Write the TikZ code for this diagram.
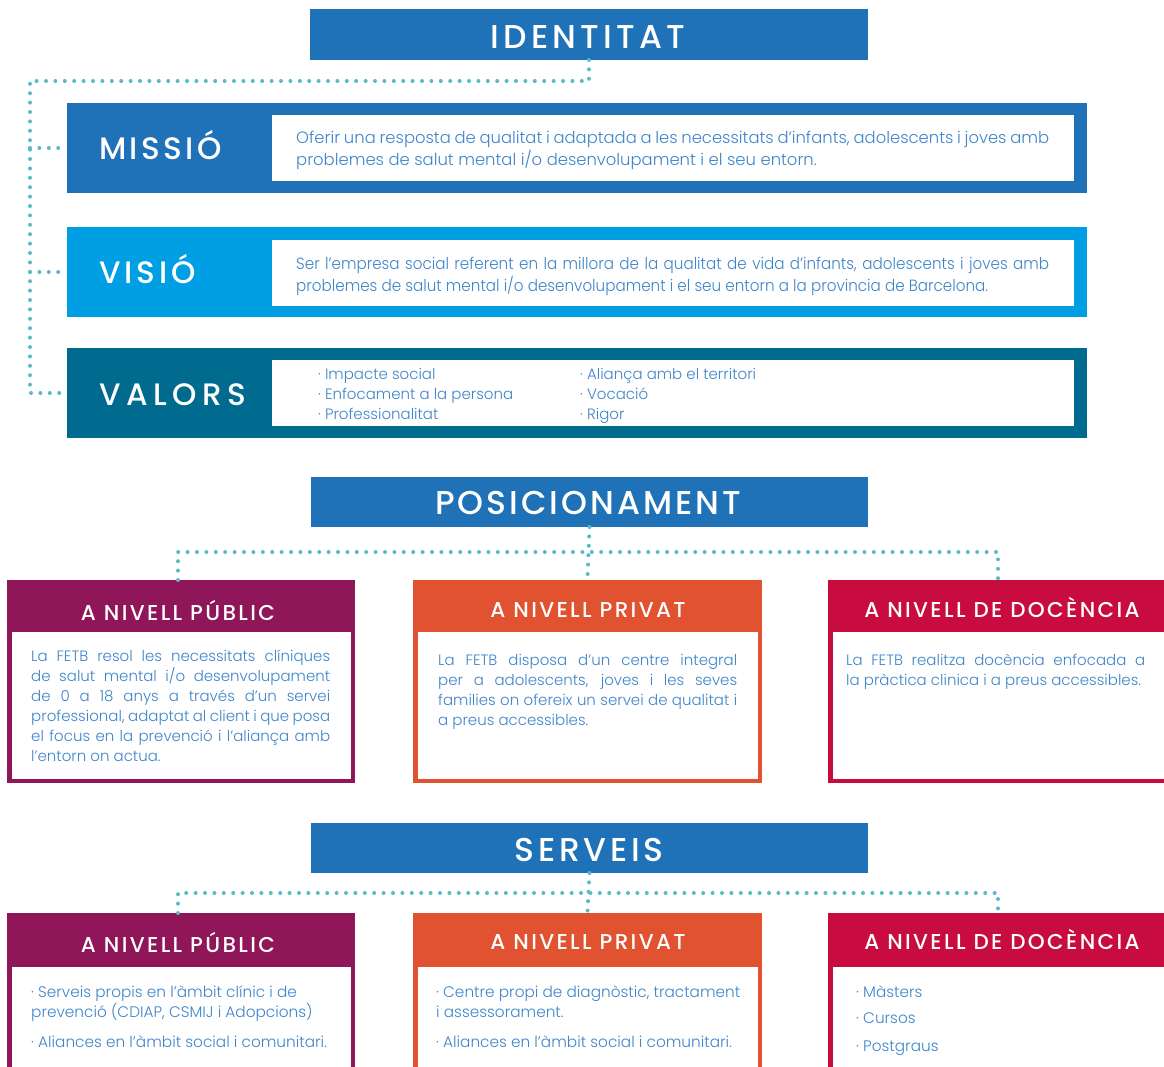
\documentclass[tikz,border=0pt]{standalone}
\usepackage{fontspec}
\newfontfamily\bodyf{Poppins Light}
\newfontfamily\bodyc{Poppins Light}[FakeStretch=0.93]
\newfontfamily\headf{Poppins Medium}[LetterSpace=10]
\newfontfamily\subf{Poppins Medium}[LetterSpace=11]
\definecolor{cIdent}{RGB}{31,113,184}
\definecolor{cVisio}{RGB}{0,159,227}
\definecolor{cValors}{RGB}{0,107,143}
\definecolor{cDot}{RGB}{93,185,201}
\definecolor{cText}{RGB}{62,133,202}
\definecolor{cPub}{RGB}{142,22,89}
\definecolor{cPriv}{RGB}{224,82,48}
\definecolor{cDoc}{RGB}{200,12,63}
\newcommand{\JLine}[2]{\makebox[#1pt][s]{#2}}
\begin{document}
\begin{tikzpicture}[x=1pt,y=-1pt,
  rbox/.style={anchor=north west, inner sep=0pt, outer sep=0pt, draw=none},
  ttl/.style={anchor=base, inner sep=0pt, text=white, font=\headf\fontsize{33}{33}\selectfont},
  lbl/.style={anchor=base west, inner sep=0pt, text=white, font=\headf\fontsize{31}{31}\selectfont},
  sub/.style={anchor=base, inner sep=0pt, text=white, font=\subf\fontsize{21.5}{21.5}\selectfont},
  txt/.style={anchor=base west, inner sep=0pt, align=left, text=cText, font=\bodyf\fontsize{16.4}{22}\selectfont},
  txtc/.style={anchor=base west, inner sep=0pt, align=left, text=cText, font=\bodyc\fontsize{16.3}{22}\selectfont},
  txts/.style={anchor=base west, inner sep=0pt, align=left, text=cText, font=\bodyf\fontsize{15}{20}\selectfont},
  txtv/.style={anchor=base west, inner sep=0pt, align=left, text=cText, font=\bodyf\fontsize{15.3}{20}\selectfont},
  dots/.style={draw=cDot, line width=4pt, line cap=round, dash pattern=on 0pt off 9.4pt}
]
\useasboundingbox (0,0) rectangle (1164,1066);
\clip (0,0) rectangle (1164,1066);
\fill[white] (0,0) rectangle (1164,1066);

% ---------- IDENTITAT ----------
\node[rbox, fill=cIdent, minimum width=558, minimum height=51] (ident) at (310,9) {};
\node[ttl] (identt) at (588,48) {\addfontfeatures{LetterSpace=13}IDENTITAT};

\node[rbox, fill=cIdent, minimum width=1020, minimum height=90] (missio) at (67,103) {};
\node[rbox, fill=white, minimum width=802, minimum height=66] (missioin) at (272,115) {};
\node[lbl] (missiol) at (99,159) {\addfontfeatures{LetterSpace=11}MISSIÓ};
\node[txt] (missiot) at (296,165) {\JLine{753}{Oferir una resposta de qualitat i adaptada a les necessitats d’infants, adolescents i joves amb}\\problemes de salut mental i/o desenvolupament i el seu entorn.};

\node[rbox, fill=cVisio, minimum width=1020, minimum height=90] (visio) at (67,227) {};
\node[rbox, fill=white, minimum width=802, minimum height=66] (visioin) at (272,240) {};
\node[lbl] (visiol) at (99,283) {\addfontfeatures{LetterSpace=13}VISIÓ};
\node[txtc] (visiot) at (296,291) {\JLine{753}{Ser l’empresa social referent en la millora de la qualitat de vida d’infants, adolescents i joves amb}\\problemes de salut mental i/o desenvolupament i el seu entorn a la provincia de Barcelona.};

\node[rbox, fill=cValors, minimum width=1020, minimum height=90] (valors) at (67,348) {};
\node[rbox, fill=white, minimum width=802, minimum height=66] (valorsin) at (272,360) {};
\node[lbl] (valorsl) at (99,405) {\addfontfeatures{LetterSpace=18}VALORS};
\node[txts] (valors1) at (318,419) {· Impacte social\\· Enfocament a la persona\\· Professionalitat};
\node[txts] (valors2) at (580,419) {· Aliança amb el territori\\· Vocació\\· Rigor};

\coordinate (lx) at (30,81);
\draw[dots] (ident.south) -- (ident.south |- lx) -- (lx) -- (lx |- valors.west) -- (valors.west);
\draw[dots] (lx |- missio.west) -- (missio.west);
\draw[dots] (lx |- visio.west) -- (visio.west);

% ---------- POSICIONAMENT ----------
\node[rbox, fill=cIdent, minimum width=557, minimum height=50] (posic) at (311,477) {};
\node[ttl] (posict) at (588,514) {\addfontfeatures{LetterSpace=9}POSICIONAMENT};

\node[rbox, fill=cPub, minimum width=348, minimum height=203] (pub1) at (7,580) {};
\node[rbox, fill=white, minimum width=339, minimum height=147] (pub1in) at (12,632) {};
\node[sub] (pub1h) at (178,620) {A NIVELL PÚBLIC};
\node[txts] (pub1t) at (31,761) {\JLine{299}{La FETB resol les necessitats clíniques}\\
\JLine{299}{de salut mental i/o desenvolupament}\\
\JLine{299}{de 0 a 18 anys a través d’un servei}\\
\JLine{299}{professional, adaptat al client i que posa}\\
\JLine{299}{el focus en la prevenció i l’aliança amb}\\
l’entorn on actua.};

\node[rbox, fill=cPriv, minimum width=349, minimum height=203] (priv1) at (413,580) {};
\node[rbox, fill=white, minimum width=340, minimum height=147] (priv1in) at (418,632) {};
\node[sub] (priv1h) at (588,617) {A NIVELL PRIVAT};
\node[txts] (priv1t) at (438,725) {\JLine{299}{La FETB disposa d’un centre integral}\\
\JLine{299}{per a adolescents, joves i les seves}\\
\JLine{299}{families on ofereix un servei de qualitat i}\\
a preus accessibles.};

\node[rbox, fill=cDoc, minimum width=349, minimum height=203] (doc1) at (828,580) {};
\node[rbox, fill=white, minimum width=340, minimum height=147] (doc1in) at (833,632) {};
\node[sub] (doc1h) at (1002,617) {A NIVELL DE DOCÈNCIA};
\node[txts] (doc1t) at (846,685) {\JLine{299}{La FETB realitza docència enfocada a}\\
la pràctica clinica i a preus accessibles.};

\coordinate (pa) at (178,552);
\coordinate (pc) at (998,552);
\draw[dots] (pa |- pub1.north) -- (pa) -- (pc) -- (pc |- doc1.north);
\draw[dots] (posic.south) -- (priv1.north);

% ---------- SERVEIS ----------
\node[rbox, fill=cIdent, minimum width=557, minimum height=50] (serv) at (311,823) {};
\node[ttl] (servt) at (589,861) {\addfontfeatures{LetterSpace=11}SERVEIS};

\node[rbox, fill=cPub, minimum width=348, minimum height=170] (pub2) at (7,913) {};
\node[rbox, fill=white, minimum width=339, minimum height=120] (pub2in) at (12,967) {};
\node[sub] (pub2h) at (178,952) {A NIVELL PÚBLIC};
\node[txtv] (pub2t) at (31,1017) {· Serveis propis en l’àmbit clínic i de\\prevenció (CDIAP, CSMIJ i Adopcions)};
\node[txtv] (pub2u) at (31,1047) {· Aliances en l’àmbit social i comunitari.};

\node[rbox, fill=cPriv, minimum width=349, minimum height=170] (priv2) at (413,913) {};
\node[rbox, fill=white, minimum width=340, minimum height=120] (priv2in) at (418,967) {};
\node[sub] (priv2h) at (588,949) {A NIVELL PRIVAT};
\node[txtv] (priv2t) at (436,1017) {· Centre propi de diagnòstic, tractament\\i assessorament.};
\node[txtv] (priv2u) at (436,1047) {· Aliances en l’àmbit social i comunitari.};

\node[rbox, fill=cDoc, minimum width=349, minimum height=170] (doc2) at (828,913) {};
\node[rbox, fill=white, minimum width=340, minimum height=120] (doc2in) at (833,967) {};
\node[sub] (doc2h) at (1002,949) {A NIVELL DE DOCÈNCIA};
\node[txtv] (doc2a) at (856,997) {· Màsters};
\node[txtv] (doc2b) at (856,1023) {· Cursos};
\node[txtv] (doc2c) at (856,1051) {· Postgraus};

\coordinate (sa) at (178,893);
\coordinate (sc) at (998,893);
\draw[dots] (sa |- pub2.north) -- (sa) -- (sc) -- (sc |- doc2.north);
\draw[dots] (serv.south) -- (priv2.north);
\end{tikzpicture}
\end{document}
